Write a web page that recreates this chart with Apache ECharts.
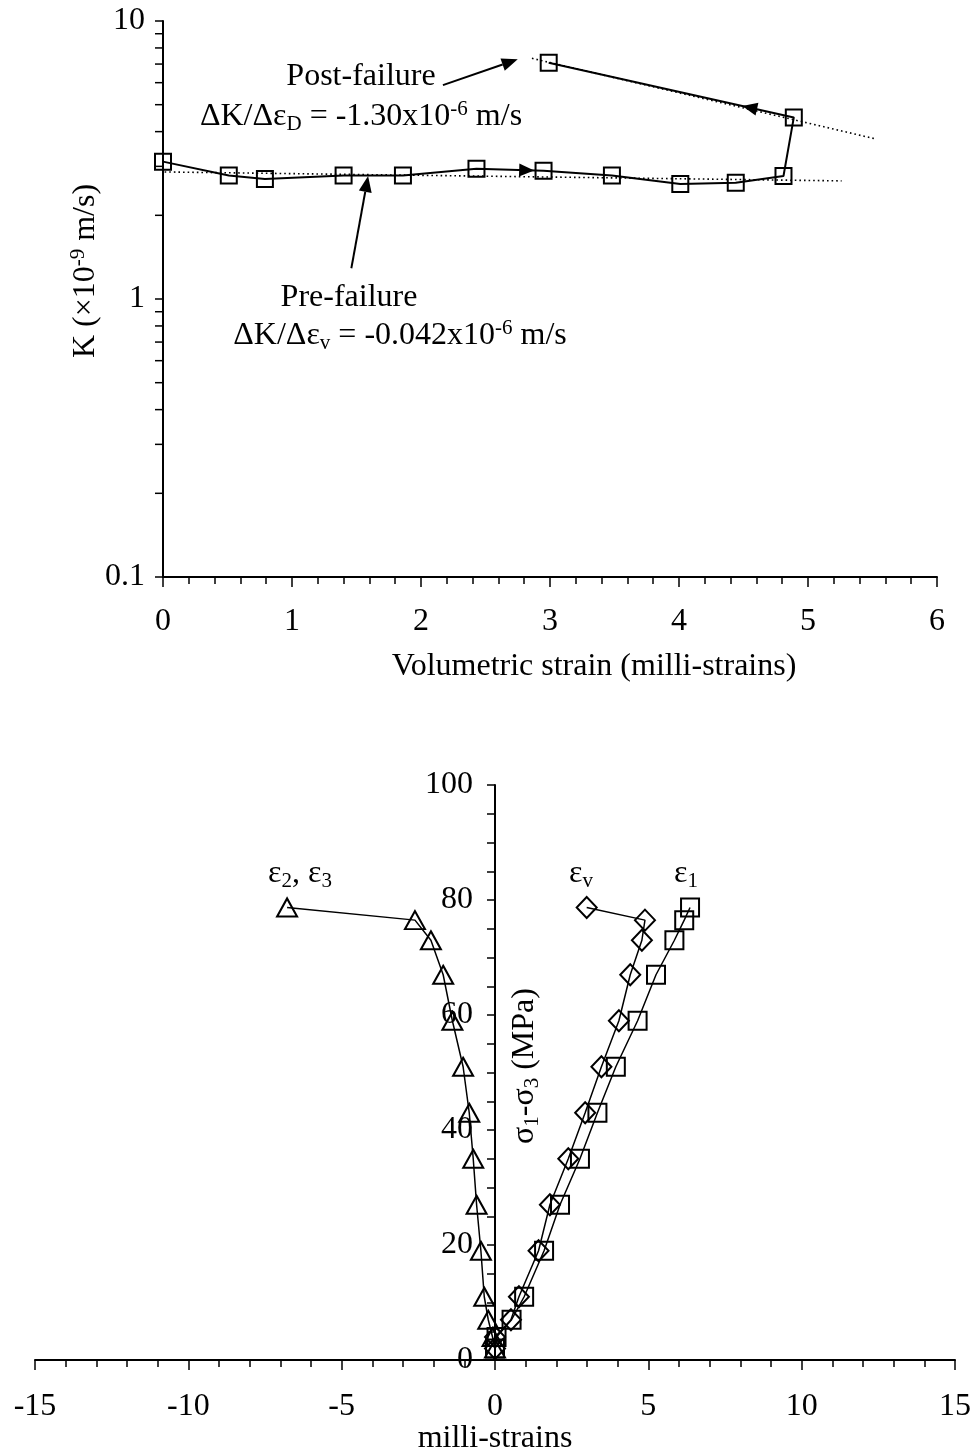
<!DOCTYPE html>
<html>
<head>
<meta charset="utf-8">
<script src="https://cdn.jsdelivr.net/npm/echarts@6/dist/echarts.min.js"></script>
<style>
  html, body { margin: 0; padding: 0; background: #ffffff; }
  #chart { width: 975px; height: 1456px; }
</style>
</head>
<body>
<div id="chart"></div>
<script>
const SERIF = "'Liberation Serif', 'Times New Roman', Times, serif";

// ---- Upper panel: permeability K (x10^-9 m/s) against volumetric strain (milli-strains)
const volStrain    = [0.00, 0.51, 0.79, 1.40, 1.86, 2.43, 2.95, 3.48, 4.01, 4.44, 4.81, 4.89, 2.99];
const permeability = [3.12, 2.78, 2.70, 2.78, 2.78, 2.94, 2.89, 2.78, 2.59, 2.62, 2.77, 4.50, 7.08];
const preFailureFit  = [[-0.13, 2.87], [5.26, 2.66]];
const postFailureFit = [[2.86, 7.34], [5.53, 3.76]];
const kTicks = [0.1, 1, 10];

// ---- Lower panel: deviator stress (MPa) against strain components (milli-strains)
const deviatorStress   = [2, 4, 7, 11, 19, 27, 35, 43, 51, 59, 67, 73, 76.5, 78.7];
const axialStrain      = [0.00, 0.05, 0.54, 0.95, 1.60, 2.12, 2.77, 3.34, 3.94, 4.65, 5.25, 5.85, 6.17, 6.36];
const volumetricStrain = [0.00, 0.00, 0.52, 0.78, 1.42, 1.79, 2.39, 2.94, 3.47, 4.04, 4.41, 4.79, 4.89, 2.99];
const lateralStrain    = [0.00, -0.08, -0.22, -0.35, -0.46, -0.60, -0.71, -0.84, -1.04, -1.39, -1.69, -2.09, -2.61, -6.78];
const strainRange = [-15, 15];

// direction-of-travel arrowheads along the K path: [from index, to index, fraction along segment]
const pathArrows = [[5, 6, 0.86], [11, 12, 0.21]];
// pointer arrows for the two annotations: [tail x, tail K, head x, head K]
const pointerArrows = [[2.17, 5.88, 2.75, 7.28], [1.46, 1.29, 1.59, 2.77]];

// log-axis minor tick positions (2..9 within each decade)
const kMinorTicks = [];
[0.1, 1].forEach(d => { for (let m = 2; m <= 9; m++) kMinorTicks.push(+(d * m).toFixed(3)); });

const kPoints = volStrain.map((x, i) => [x, permeability[i]]);
const pathArrowData = pathArrows.map(([a, b, t]) => {
  const [xa, ya] = kPoints[a], [xb, yb] = kPoints[b];
  const x = xa + t * (xb - xa);
  const y = Math.exp(Math.log(ya) + t * (Math.log(yb) - Math.log(ya)));
  return [x, y, xa, ya];
});

const zip = (xs, ys) => xs.map((x, i) => [x, ys[i]]);

function headPoints(tip, tail, len, half) {
  const dx = tip[0] - tail[0], dy = tip[1] - tail[1];
  const d = Math.hypot(dx, dy) || 1;
  const ux = dx / d, uy = dy / d;
  const bx = tip[0] - ux * len, by = tip[1] - uy * len;
  return [[tip[0], tip[1]], [bx - uy * half, by + ux * half], [bx + uy * half, by - ux * half]];
}

const axisLine = { color: '#000', width: 2 };
const tickLine = { color: '#000', width: 1.5 };
const tickLabel = { color: '#000', fontFamily: SERIF, fontSize: 32 };

const richSubSup = {
  sub: { fontFamily: SERIF, fontSize: 21, lineHeight: 20, verticalAlign: 'bottom', fill: '#000' },
  sup: { fontFamily: SERIF, fontSize: 21, lineHeight: 20, verticalAlign: 'top', fill: '#000' }
};

function label(text, x, y, opts) {
  opts = opts || {};
  return {
    type: 'text', x: x, y: y, rotation: opts.rotation || 0, silent: true,
    style: {
      text: text, rich: richSubSup, fill: '#000',
      fontFamily: SERIF, fontSize: 32, lineHeight: 36,
      align: 'center', verticalAlign: 'middle',
      textAlign: 'center', textVerticalAlign: 'middle'
    }
  };
}

const strainSeries = (name, data, symbol, size) => ({
  type: 'line', name: name, xAxisIndex: 1, yAxisIndex: 1, data: data,
  symbol: symbol, symbolSize: size, showAllSymbol: true,
  lineStyle: { color: '#000', width: 1.5 },
  itemStyle: { color: 'rgba(0,0,0,0)', borderColor: '#000', borderWidth: 2 },
  emphasis: { disabled: true }, z: 5
});

const lowerGrid = { left: 35, top: 785, width: 920, height: 575, outerBoundsMode: 'none', containLabel: false };
// the stress axis sits on zero strain
const stressAxisOffset = -lowerGrid.width * (0 - strainRange[0]) / (strainRange[1] - strainRange[0]);

const option = {
  animation: false,
  backgroundColor: '#ffffff',
  grid: [
    { left: 163, top: 21, width: 774, height: 556, outerBoundsMode: 'none', containLabel: false },
    lowerGrid
  ],
  xAxis: [
    {
      gridIndex: 0, type: 'value', min: 0, max: 6, interval: 1,
      axisLine: { show: true, onZero: false, lineStyle: axisLine },
      axisTick: { show: true, length: 10, lineStyle: tickLine },
      minorTick: { show: true, splitNumber: 5, length: 7, lineStyle: tickLine },
      axisLabel: Object.assign({ margin: 29 }, tickLabel),
      splitLine: { show: false }, minorSplitLine: { show: false }
    },
    {
      gridIndex: 1, type: 'value', min: strainRange[0], max: strainRange[1], interval: 5,
      axisLine: { show: true, onZero: false, lineStyle: axisLine },
      axisTick: { show: true, length: 10, lineStyle: tickLine },
      minorTick: { show: true, splitNumber: 5, length: 7, lineStyle: tickLine },
      axisLabel: Object.assign({ margin: 31 }, tickLabel),
      splitLine: { show: false }, minorSplitLine: { show: false }
    }
  ],
  yAxis: [
    {
      gridIndex: 0, type: 'log', logBase: 10, min: 0.1, max: 10,
      axisLine: { show: true, onZero: false, lineStyle: axisLine },
      axisTick: { show: true, length: 8, lineStyle: tickLine },
      axisLabel: Object.assign({
        margin: 18,
        formatter: v => {
          const t = kTicks.find(k => Math.abs(Math.log10(k) - Math.log10(v)) < 1e-6);
          return t === undefined ? '' : String(t);
        }
      }, tickLabel),
      splitLine: { show: false }
    },
    {
      gridIndex: 1, type: 'value', min: 0, max: 100, interval: 20,
      position: 'left', offset: stressAxisOffset,
      axisLine: { show: true, onZero: false, lineStyle: axisLine },
      axisTick: { show: true, length: 8, lineStyle: tickLine },
      minorTick: { show: true, splitNumber: 4, length: 8, lineStyle: tickLine },
      axisLabel: Object.assign({ margin: 22 }, tickLabel),
      splitLine: { show: false }, minorSplitLine: { show: false }
    }
  ],
  series: [
    {
      // minor ticks of the logarithmic K axis
      type: 'custom', xAxisIndex: 0, yAxisIndex: 0, silent: true, clip: false,
      data: kMinorTicks.map(v => [0, v]),
      renderItem: (params, api) => {
        const p = api.coord([0, api.value(1)]);
        return { type: 'line', shape: { x1: p[0] - 8, y1: p[1], x2: p[0], y2: p[1] },
                 style: { stroke: '#000', lineWidth: 1.5 } };
      }
    },
    {
      type: 'line', xAxisIndex: 0, yAxisIndex: 0, data: preFailureFit, symbol: 'none', clip: false,
      lineStyle: { color: '#000', width: 1.6, type: [1.6, 3] }, silent: true, z: 2
    },
    {
      type: 'line', xAxisIndex: 0, yAxisIndex: 0, data: postFailureFit, symbol: 'none', clip: false,
      lineStyle: { color: '#000', width: 1.6, type: [1.6, 3] }, silent: true, z: 2
    },
    {
      type: 'line', name: 'K', xAxisIndex: 0, yAxisIndex: 0, data: kPoints,
      symbol: 'rect', symbolSize: 16, showAllSymbol: true,
      lineStyle: { color: '#000', width: 2 },
      itemStyle: { color: 'rgba(0,0,0,0)', borderColor: '#000', borderWidth: 2 },
      emphasis: { disabled: true }, z: 5
    },
    {
      // arrowheads showing the loading direction along the K path
      type: 'custom', xAxisIndex: 0, yAxisIndex: 0, silent: true, clip: false, z: 6,
      data: pathArrowData,
      renderItem: (params, api) => {
        const tip = api.coord([api.value(0), api.value(1)]);
        const tail = api.coord([api.value(2), api.value(3)]);
        return { type: 'polygon', shape: { points: headPoints(tip, tail, 15, 6.5) }, style: { fill: '#000' } };
      }
    },
    {
      // annotation pointers
      type: 'custom', xAxisIndex: 0, yAxisIndex: 0, silent: true, clip: false, z: 6,
      data: pointerArrows,
      renderItem: (params, api) => {
        const tail = api.coord([api.value(0), api.value(1)]);
        const tip = api.coord([api.value(2), api.value(3)]);
        const pts = headPoints(tip, tail, 16, 6.5);
        const base = [(pts[1][0] + pts[2][0]) / 2, (pts[1][1] + pts[2][1]) / 2];
        return {
          type: 'group', children: [
            { type: 'line', shape: { x1: tail[0], y1: tail[1], x2: base[0], y2: base[1] },
              style: { stroke: '#000', lineWidth: 2 } },
            { type: 'polygon', shape: { points: pts }, style: { fill: '#000' } }
          ]
        };
      }
    },
    strainSeries('ε1', zip(axialStrain, deviatorStress), 'rect', 18),
    strainSeries('εv', zip(volumetricStrain, deviatorStress), 'diamond', [20, 21]),
    strainSeries('ε2, ε3', zip(lateralStrain, deviatorStress), 'triangle', [20, 18])
  ],
  graphic: [
    label('Post-failure', 361, 77),
    label('ΔK/Δε{sub|D} = -1.30x10{sup|-6} m/s', 361, 117),
    label('Pre-failure', 349, 298),
    label('ΔK/Δε{sub|v} = -0.042x10{sup|-6} m/s', 400, 336),
    label('K (×10{sup|-9} m/s)', 86, 271, { rotation: Math.PI / 2 }),
    label('Volumetric strain (milli-strains)', 594, 667),
    label('σ{sub|1}-σ{sub|3} (MPa)', 525, 1066, { rotation: Math.PI / 2 }),
    label('milli-strains', 495, 1439),
    label('ε{sub|2}, ε{sub|3}', 300, 874),
    label('ε{sub|v}', 581, 874),
    label('ε{sub|1}', 686, 874)
  ]
};

const chart = echarts.init(document.getElementById('chart'), null, { renderer: 'canvas' });
chart.setOption(option);
</script>
</body>
</html>
